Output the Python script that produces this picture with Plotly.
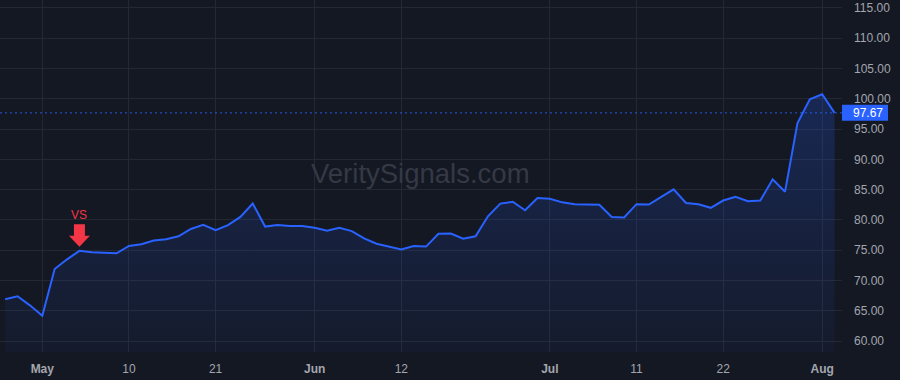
import plotly.graph_objects as go

# ---- data ----
dates = [
    "2024-04-26", "2024-04-29", "2024-04-30", "2024-05-01", "2024-05-02", "2024-05-03",
    "2024-05-06", "2024-05-07", "2024-05-08", "2024-05-09", "2024-05-10", "2024-05-13",
    "2024-05-14", "2024-05-15", "2024-05-16", "2024-05-17", "2024-05-20", "2024-05-21",
    "2024-05-22", "2024-05-23", "2024-05-24", "2024-05-28", "2024-05-29", "2024-05-30",
    "2024-05-31", "2024-06-03", "2024-06-04", "2024-06-05", "2024-06-06", "2024-06-07",
    "2024-06-10", "2024-06-11", "2024-06-12", "2024-06-13", "2024-06-14", "2024-06-17",
    "2024-06-18", "2024-06-20", "2024-06-21", "2024-06-24", "2024-06-25", "2024-06-26",
    "2024-06-27", "2024-06-28", "2024-07-01", "2024-07-02", "2024-07-03", "2024-07-05",
    "2024-07-08", "2024-07-09", "2024-07-10", "2024-07-11", "2024-07-12", "2024-07-15",
    "2024-07-16", "2024-07-17", "2024-07-18", "2024-07-19", "2024-07-22", "2024-07-23",
    "2024-07-24", "2024-07-25", "2024-07-26", "2024-07-29", "2024-07-30", "2024-07-31",
    "2024-08-01", "2024-08-02",
]
closes = [
    66.9, 67.4, 65.9, 64.2, 71.9, 73.5,
    74.9, 74.65, 74.6, 74.5, 75.7, 76.0,
    76.6, 76.8, 77.3, 78.5, 79.2, 78.3,
    79.15, 80.5, 82.7, 78.9, 79.15, 79.0,
    79.0, 78.7, 78.2, 78.7, 78.16, 76.96,
    76.07, 75.6, 75.14, 75.7, 75.6, 77.7,
    77.75, 76.9, 77.3, 80.6, 82.7, 83.0,
    81.6, 83.6, 83.5, 82.9, 82.6, 82.55,
    82.5, 80.5, 80.4, 82.6, 82.55, 83.8,
    85.05, 82.8, 82.6, 82.0, 83.2, 83.8,
    83.1, 83.2, 86.7, 84.66, 95.95, 99.9,
    100.74, 97.67,
]
tick_dates = ["2024-05-01", "2024-05-10", "2024-05-21", "2024-06-03", "2024-06-12",
              "2024-07-01", "2024-07-11", "2024-07-22", "2024-08-01"]
tick_text = ["<b>May</b>", "10", "21", "<b>Jun</b>", "12", "<b>Jul</b>", "11", "22", "<b>Aug</b>"]
y_ticks = [60, 65, 70, 75, 80, 85, 90, 95, 100, 105, 110, 115]
signal_date = "2024-05-06"
signal_label = "VS"
last_price = closes[-1]
watermark = "VeritySignals.com"

# ---- style ----
BG = "#141823"
GRID = "#242833"
TXT = "#a3a6ae"
BLUE = "#2962FF"
RED = "#F23645"
FONT = "Liberation Sans, Arial, sans-serif"

fig = go.Figure()
fig.add_trace(go.Scatter(
    x=dates, y=closes, mode="lines",
    line=dict(color=BLUE, width=2),
    fill="tozeroy",
    fillgradient=dict(type="vertical",
                      colorscale=[[0, "rgba(41,98,255,0.04)"], [1, "rgba(41,98,255,0.22)"]],
                      start=58, stop=101),
    hoverinfo="skip", showlegend=False,
))

signal_idx = dates.index(signal_date)
signal_val = closes[signal_idx]

shapes = [
    # dotted last-price line
    dict(type="line", xref="paper", x0=0, x1=1, yref="y", y0=last_price, y1=last_price,
         line=dict(color="rgba(41,98,255,0.85)", width=1, dash="2px,3px"), layer="above"),
    # last price box
    dict(type="rect", xref="paper", x0=1, x1=1 + 46 / 842, yref="y",
         ysizemode="pixel", yanchor=last_price, y0=-8, y1=8,
         fillcolor=BLUE, line=dict(width=0), layer="above"),
    # signal arrow
    dict(type="path", xref="x", yref="y", xsizemode="pixel", ysizemode="pixel",
         xanchor=signal_date, yanchor=signal_val,
         path="M 0,4 L -10.5,15 L -5.5,15 L -5.5,26.5 L 5.5,26.5 L 5.5,15 L 10.5,15 Z",
         fillcolor=RED, line=dict(width=0), layer="above"),
]

annotations = [
    dict(text=watermark, xref="paper", yref="paper", x=0.4995, y=0.508,
         xanchor="center", yanchor="middle", showarrow=False,
         font=dict(family=FONT, size=27.5, color="#353945")),
    dict(text=signal_label, xref="x", yref="y", x=signal_date, y=signal_val,
         yshift=35.5, showarrow=False, xanchor="center", yanchor="middle",
         font=dict(family=FONT, size=12, color=RED)),
    dict(text=f"{last_price:.2f}", xref="paper", yref="y", x=1, y=last_price,
         xanchor="left", yanchor="middle", xshift=9, showarrow=False,
         font=dict(family=FONT, size=12, color="#ffffff")),
]

fig.update_layout(
    width=900, height=380,
    margin=dict(l=0, r=58, t=0, b=28),
    paper_bgcolor=BG, plot_bgcolor=BG,
    font=dict(family=FONT, size=12, color=TXT),
    shapes=shapes, annotations=annotations,
    hovermode=False,
    xaxis=dict(
        type="category", range=[-0.417, 67.6],
        tickmode="array", tickvals=tick_dates, ticktext=tick_text,
        showgrid=True, gridcolor=GRID, gridwidth=1,
        zeroline=False, showline=False, ticks="",
        tickfont=dict(family=FONT, size=12, color=TXT),
        ticklabelstandoff=8,
    ),
    yaxis=dict(
        side="right", range=[58.2, 116.3],
        tickmode="array", tickvals=y_ticks, ticktext=[f"{v:.2f}" for v in y_ticks],
        showgrid=True, gridcolor=GRID, gridwidth=1,
        zeroline=False, showline=False, ticks="",
        tickfont=dict(family=FONT, size=12, color=TXT),
        ticklabelstandoff=11,
    ),
)

fig.write_html("out.html")
